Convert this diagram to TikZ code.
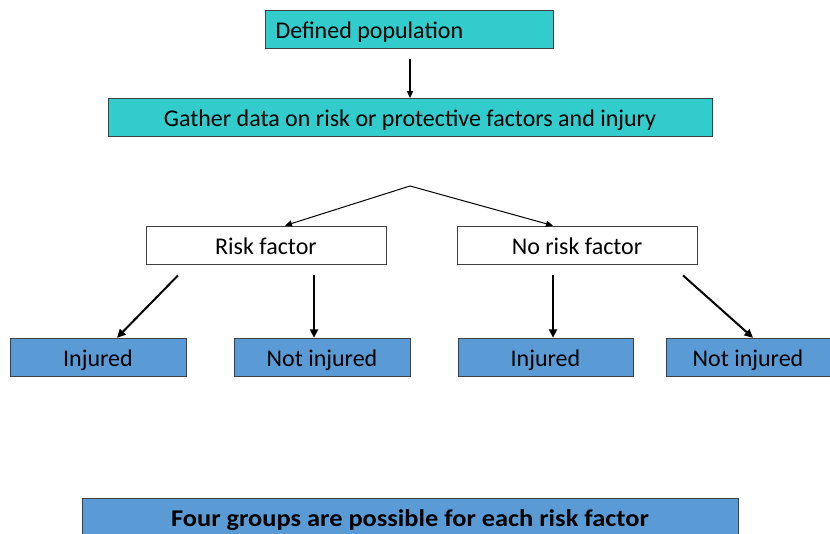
\documentclass[tikz,border=0pt]{standalone}
\usepackage{fontspec}
\setmainfont{Carlito}
\usetikzlibrary{arrows.meta,calc}
\definecolor{tealfill}{HTML}{33CCCC}
\definecolor{bluefill}{HTML}{5B9BD5}
\definecolor{edgegray}{HTML}{404040}
\begin{document}
\begin{tikzpicture}[x=1pt,y=-1pt,
  box/.style={draw=edgegray,line width=0.8pt,minimum height=38pt,inner sep=0pt,
    font=\fontsize{24}{28}\selectfont,text=black,text height=20.4pt,text depth=2pt},
  tealbox/.style={box,fill=tealfill},
  whitebox/.style={box,fill=white},
  bluebox/.style={box,fill=bluefill},
  thick arrow/.style={line width=2pt,-{Triangle[length=8.5pt,width=8pt]}},
  thin arrow/.style={line width=1pt,-{Triangle[length=7pt,width=6pt]}}]
\useasboundingbox (0,0) rectangle (830,534);
% top boxes
\node[tealbox,minimum width=288pt] (pop) at (409.5,29.5) {\makebox[268pt][l]{Defined population}};
\node[tealbox,minimum width=604pt] (gather) at (410,117.5) {Gather data on risk or protective factors and injury};
\draw[line width=1.5pt,-{Triangle[length=7pt,width=6pt]}] ($(pop.south)+(0.5,10)$) -- (gather.north);
% split into the two exposure groups
\coordinate (apex) at (410,186);
\node[whitebox,minimum width=240pt] (rf) at (266,245) {Risk factor};
\node[whitebox,minimum width=240pt] (norf) at (577,245) {No risk factor};
\draw[thin arrow] (apex) -- ($(rf.north)+(19,0)$);
\draw[thin arrow] (apex) -- ($(norf.north)+(-24,0)$);
% outcome boxes
\node[bluebox,minimum width=176pt] (inj1) at (98,357.2) {Injured};
\node[bluebox,minimum width=176pt] (not1) at (322,357.2) {Not injured};
\node[bluebox,minimum width=175pt] (inj2) at (545.5,357.2) {Injured};
\node[bluebox,minimum width=164pt] (not2) at (748,357.2) {Not injured};
\draw[thick arrow] ($(rf.south)+(-88,11)$) -- ($(inj1.north)+(19,0)$);
\draw[thick arrow] ($(rf.south)+(48,11)$) -- ($(not1.north)+(-8,0)$);
\draw[thick arrow] ($(norf.south)+(-24,11)$) -- ($(inj2.north)+(7.5,0)$);
\draw[thick arrow] ($(norf.south)+(106,11)$) -- ($(not2.north)+(5,0)$);
% summary banner
\node[bluebox,minimum width=656pt,font=\fontsize{24}{28}\selectfont\bfseries] (sum) at (410,517.3) {\scalebox{1.1}[1]{Four groups are possible for each risk factor}};
\end{tikzpicture}
\end{document}
